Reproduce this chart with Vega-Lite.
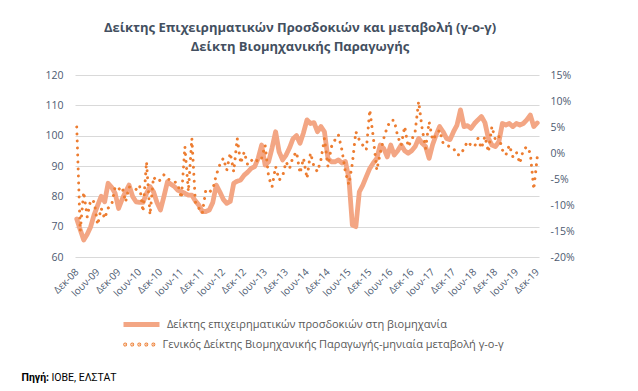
{
  "$schema": "https://vega.github.io/schema/vega-lite/v6.json",
  "width": 464,
  "height": 182,
  "autosize": {"type": "none"},
  "padding": {"left": 75, "top": 75, "right": 99, "bottom": 134},
  "background": "white",
  "config": {"font": "Open Sans", "view": {"stroke": null}},
  "title": {
    "text": ["Δείκτης Επιχειρηματικών Προσδοκιών και μεταβολή (γ-ο-γ)", "Δείκτη Βιομηχανικής Παραγωγής"],
    "fontSize": 13,
    "fontWeight": "bold",
    "color": "#434f60",
    "anchor": "middle",
    "dx": -7,
    "offset": 16,
    "lineHeight": 19
  },
  "data": {"values": [
    {"m": "2008-12", "bei": 72.5, "ip": 5.0},
    {"m": "2009-01", "bei": 69, "ip": -15.0},
    {"m": "2009-02", "bei": 65.6, "ip": -7.5},
    {"m": "2009-03", "bei": 67.5, "ip": -12.3},
    {"m": "2009-04", "bei": 70, "ip": -9.0},
    {"m": "2009-05", "bei": 74, "ip": -9.4},
    {"m": "2009-06", "bei": 77, "ip": -13.8},
    {"m": "2009-07", "bei": 80, "ip": -10.6},
    {"m": "2009-08", "bei": 78.2, "ip": -12.6},
    {"m": "2009-09", "bei": 84.3, "ip": -10.6},
    {"m": "2009-10", "bei": 83, "ip": -10.0},
    {"m": "2009-11", "bei": 81, "ip": -6.5},
    {"m": "2009-12", "bei": 76, "ip": -7.0},
    {"m": "2010-01", "bei": 79, "ip": -6.5},
    {"m": "2010-02", "bei": 81.5, "ip": -9.4},
    {"m": "2010-03", "bei": 83.7, "ip": -6.5},
    {"m": "2010-04", "bei": 80, "ip": -6.8},
    {"m": "2010-05", "bei": 78.2, "ip": -7.0},
    {"m": "2010-06", "bei": 78, "ip": -6.2},
    {"m": "2010-07", "bei": 78, "ip": -11.3},
    {"m": "2010-08", "bei": 81, "ip": -1.7},
    {"m": "2010-09", "bei": 83.2, "ip": -11.9},
    {"m": "2010-10", "bei": 81.5, "ip": -4.6},
    {"m": "2010-11", "bei": 78, "ip": -5.5},
    {"m": "2010-12", "bei": 75.5, "ip": -5.2},
    {"m": "2011-01", "bei": 80, "ip": -4.2},
    {"m": "2011-02", "bei": 84.8, "ip": -5.0},
    {"m": "2011-03", "bei": 84, "ip": -5.2},
    {"m": "2011-04", "bei": 83.2, "ip": -5.5},
    {"m": "2011-05", "bei": 82, "ip": -6.0},
    {"m": "2011-06", "bei": 81.5, "ip": -8.7},
    {"m": "2011-07", "bei": 81, "ip": 1.2},
    {"m": "2011-08", "bei": 80.4, "ip": -7.4},
    {"m": "2011-09", "bei": 80.4, "ip": 2.8},
    {"m": "2011-10", "bei": 78.5, "ip": -9.4},
    {"m": "2011-11", "bei": 77.1, "ip": -10.6},
    {"m": "2011-12", "bei": 75, "ip": -11.6},
    {"m": "2012-01", "bei": 75, "ip": -7.1},
    {"m": "2012-02", "bei": 75.5, "ip": -7.5},
    {"m": "2012-03", "bei": 78, "ip": -7.0},
    {"m": "2012-04", "bei": 83.7, "ip": -4.2},
    {"m": "2012-05", "bei": 81.5, "ip": -2.3},
    {"m": "2012-06", "bei": 79, "ip": -1.0},
    {"m": "2012-07", "bei": 77.7, "ip": -3.3},
    {"m": "2012-08", "bei": 78.3, "ip": 0.0},
    {"m": "2012-09", "bei": 84.3, "ip": -3.6},
    {"m": "2012-10", "bei": 85, "ip": 2.8},
    {"m": "2012-11", "bei": 85.4, "ip": -2.0},
    {"m": "2012-12", "bei": 87, "ip": 0.2},
    {"m": "2013-01", "bei": 88, "ip": -2.3},
    {"m": "2013-02", "bei": 89.2, "ip": -1.5},
    {"m": "2013-03", "bei": 89.8, "ip": -1.0},
    {"m": "2013-04", "bei": 92.5, "ip": -1.7},
    {"m": "2013-05", "bei": 96.9, "ip": -1.0},
    {"m": "2013-06", "bei": 90.3, "ip": 1.5},
    {"m": "2013-07", "bei": 91.4, "ip": -4.6},
    {"m": "2013-08", "bei": 96, "ip": -6.5},
    {"m": "2013-09", "bei": 101.3, "ip": -2.6},
    {"m": "2013-10", "bei": 94.7, "ip": -5.2},
    {"m": "2013-11", "bei": 92, "ip": -4.5},
    {"m": "2013-12", "bei": 93.6, "ip": -1.7},
    {"m": "2014-01", "bei": 96, "ip": -3.0},
    {"m": "2014-02", "bei": 99, "ip": -0.7},
    {"m": "2014-03", "bei": 100, "ip": 0.2},
    {"m": "2014-04", "bei": 97.5, "ip": -3.9},
    {"m": "2014-05", "bei": 101, "ip": -1.0},
    {"m": "2014-06", "bei": 105.2, "ip": -4.9},
    {"m": "2014-07", "bei": 104, "ip": 0.0},
    {"m": "2014-08", "bei": 104.3, "ip": -2.6},
    {"m": "2014-09", "bei": 101.3, "ip": -3.6},
    {"m": "2014-10", "bei": 103, "ip": -1.3},
    {"m": "2014-11", "bei": 101.3, "ip": 2.8},
    {"m": "2014-12", "bei": 92.5, "ip": -2.6},
    {"m": "2015-01", "bei": 91.4, "ip": 1.2},
    {"m": "2015-02", "bei": 91.4, "ip": 2.5},
    {"m": "2015-03", "bei": 92, "ip": 3.5},
    {"m": "2015-04", "bei": 91, "ip": 0.6},
    {"m": "2015-05", "bei": 91.5, "ip": -3.6},
    {"m": "2015-06", "bei": 86, "ip": -6.1},
    {"m": "2015-07", "bei": 70.5, "ip": -2.0},
    {"m": "2015-08", "bei": 70, "ip": 4.1},
    {"m": "2015-09", "bei": 81.5, "ip": 2.5},
    {"m": "2015-10", "bei": 83.7, "ip": 1.5},
    {"m": "2015-11", "bei": 86.5, "ip": 0.6},
    {"m": "2015-12", "bei": 89.2, "ip": 8.3},
    {"m": "2016-01", "bei": 91, "ip": 3.0},
    {"m": "2016-02", "bei": 92.5, "ip": -3.3},
    {"m": "2016-03", "bei": 96.9, "ip": 0.0},
    {"m": "2016-04", "bei": 95.8, "ip": 2.8},
    {"m": "2016-05", "bei": 93, "ip": 5.0},
    {"m": "2016-06", "bei": 96.9, "ip": 6.3},
    {"m": "2016-07", "bei": 93.6, "ip": 6.3},
    {"m": "2016-08", "bei": 95, "ip": 3.2},
    {"m": "2016-09", "bei": 96.9, "ip": 1.5},
    {"m": "2016-10", "bei": 95, "ip": 5.1},
    {"m": "2016-11", "bei": 94.2, "ip": 1.2},
    {"m": "2016-12", "bei": 95, "ip": 2.5},
    {"m": "2017-01", "bei": 96.4, "ip": 4.1},
    {"m": "2017-02", "bei": 99.1, "ip": 9.9},
    {"m": "2017-03", "bei": 97.5, "ip": 4.7},
    {"m": "2017-04", "bei": 96.4, "ip": 0.9},
    {"m": "2017-05", "bei": 92.5, "ip": 6.0},
    {"m": "2017-06", "bei": 97, "ip": 2.5},
    {"m": "2017-07", "bei": 100.2, "ip": 3.5},
    {"m": "2017-08", "bei": 103, "ip": 4.4},
    {"m": "2017-09", "bei": 101.3, "ip": 1.9},
    {"m": "2017-10", "bei": 99.1, "ip": 1.5},
    {"m": "2017-11", "bei": 98.7, "ip": 1.2},
    {"m": "2017-12", "bei": 101.3, "ip": 0.9},
    {"m": "2018-01", "bei": 103.5, "ip": -0.3},
    {"m": "2018-02", "bei": 108.5, "ip": -0.4},
    {"m": "2018-03", "bei": 103, "ip": 0.9},
    {"m": "2018-04", "bei": 103.3, "ip": 2.2},
    {"m": "2018-05", "bei": 102.4, "ip": 1.5},
    {"m": "2018-06", "bei": 104, "ip": 1.2},
    {"m": "2018-07", "bei": 105.2, "ip": 2.8},
    {"m": "2018-08", "bei": 106.3, "ip": 0.9},
    {"m": "2018-09", "bei": 104.3, "ip": 3.2},
    {"m": "2018-10", "bei": 99.1, "ip": 0.2},
    {"m": "2018-11", "bei": 96.9, "ip": 5.1},
    {"m": "2018-12", "bei": 96.4, "ip": 2.5},
    {"m": "2019-01", "bei": 98, "ip": 3.2},
    {"m": "2019-02", "bei": 104, "ip": 0.6},
    {"m": "2019-03", "bei": 103.5, "ip": -0.4},
    {"m": "2019-04", "bei": 104, "ip": 1.5},
    {"m": "2019-05", "bei": 103, "ip": -0.7},
    {"m": "2019-06", "bei": 104, "ip": 0.2},
    {"m": "2019-07", "bei": 103.5, "ip": -2.0},
    {"m": "2019-08", "bei": 104, "ip": 0.6},
    {"m": "2019-09", "bei": 105.2, "ip": 1.2},
    {"m": "2019-10", "bei": 106.8, "ip": 0.0},
    {"m": "2019-11", "bei": 103, "ip": -7.0},
    {"m": "2019-12", "bei": 104.2, "ip": -0.8}
  ]},
  "layer": [
    {
      "mark": {"type": "line", "strokeWidth": 4.8, "strokeJoin": "round", "strokeCap": "round"},
      "encoding": {
        "x": {
          "field": "m", "type": "ordinal", "sort": null,
          "scale": {"type": "point", "padding": 0.5},
          "axis": {
            "orient": "bottom",
            "values": ["2008-12","2009-06","2009-12","2010-06","2010-12","2011-06","2011-12","2012-06","2012-12","2013-06","2013-12","2014-06","2014-12","2015-06","2015-12","2016-06","2016-12","2017-06","2017-12","2018-06","2018-12","2019-06","2019-12"],
            "labelExpr": "(substring(datum.value,5,7)=='12' ? 'Δεκ-' : 'Ιουν-') + substring(datum.value,2,4)",
            "labelAngle": -45, "labelAlign": "right", "labelBaseline": "middle",
            "labelPadding": 13, "labelFontSize": 10, "labelColor": "#4d5a70",
            "labelOverlap": false, "ticks": false, "domain": false, "grid": false,
            "title": "Πηγή:", "titleFont": "Roboto", "titleFontWeight": "bold", "titleFontSize": 10.5, "titleColor": "#000000",
            "titleX": -54, "titleY": 120, "titleAlign": "left", "titleBaseline": "middle", "titleAngle": 0
          }
        },
        "y": {
          "field": "bei", "type": "quantitative",
          "scale": {"domain": [60, 120], "nice": false, "zero": false},
          "axis": {
            "values": [60, 70, 80, 90, 100, 110, 120],
            "grid": true, "gridColor": "#D9D9D9", "gridWidth": 1,
            "domain": false, "ticks": false, "labelPadding": 12,
            "labelFontSize": 10.5, "labelColor": "#4d5a70", "title": null
          }
        },
        "color": {
          "datum": "Δείκτης επιχειρηματικών προσδοκιών στη βιομηχανία",
          "scale": {"range": ["#F3A684"]},
          "legend": {
            "orient": "none", "legendX": 46, "legendY": 229, "title": null, "padding": 0,
            "symbolType": "stroke", "symbolSize": 1296, "symbolStrokeWidth": 5,
            "labelFontSize": 11, "labelColor": "#595959", "labelOffset": 5, "labelLimit": 600
          }
        }
      }
    },
    {
      "mark": {"type": "line", "strokeWidth": 3, "strokeDash": [0.01, 7], "strokeCap": "round", "strokeJoin": "round"},
      "encoding": {
        "x": {
          "field": "m", "type": "ordinal", "sort": null,
          "scale": {"type": "point", "padding": 0.5},
          "axis": {
            "orient": "bottom",
            "labels": false, "ticks": false, "domain": false, "grid": false,
            "title": "ΙΟΒΕ, ΕΛΣΤΑΤ", "titleFont": "Roboto", "titleFontWeight": "normal", "titleFontSize": 10.5, "titleColor": "#000000",
            "titleX": -24, "titleY": 120, "titleAlign": "left", "titleBaseline": "middle", "titleAngle": 0
          }
        },
        "y": {
          "field": "ip", "type": "quantitative",
          "scale": {"domain": [-20, 15], "nice": false, "zero": false},
          "axis": {
            "orient": "right",
            "values": [-20, -15, -10, -5, 0, 5, 10, 15],
            "labelExpr": "datum.value + '%'",
            "grid": false, "domain": false, "ticks": false, "labelPadding": 11,
            "labelFontSize": 10.5, "labelColor": "#4d5a70", "title": null
          }
        },
        "color": {
          "datum": "Γενικός Δείκτης Βιομηχανικής Παραγωγής-μηνιαία μεταβολή γ-ο-γ",
          "scale": {"range": ["#ED7D31"]},
          "legend": {
            "orient": "none", "legendX": 47.5, "legendY": 253, "title": null, "padding": 0,
            "symbolType": "M-0.95,0a0.03,0.03 0 1,0 0.06,0a0.03,0.03 0 1,0 -0.06,0M-0.48,0a0.03,0.03 0 1,0 0.06,0a0.03,0.03 0 1,0 -0.06,0M-0.01,0a0.03,0.03 0 1,0 0.06,0a0.03,0.03 0 1,0 -0.06,0M0.46,0a0.03,0.03 0 1,0 0.06,0a0.03,0.03 0 1,0 -0.06,0M0.93,0a0.03,0.03 0 1,0 0.06,0a0.03,0.03 0 1,0 -0.06,0",
            "symbolSize": 900, "symbolStrokeWidth": 3, "symbolFillColor": "#ED7D31",
            "labelFontSize": 11, "labelColor": "#595959", "labelOffset": 7, "labelLimit": 600
          }
        }
      }
    }
  ],
  "resolve": {
    "scale": {"y": "independent", "color": "independent"},
    "axis": {"x": "independent"},
    "legend": {"color": "independent"}
  }
}
